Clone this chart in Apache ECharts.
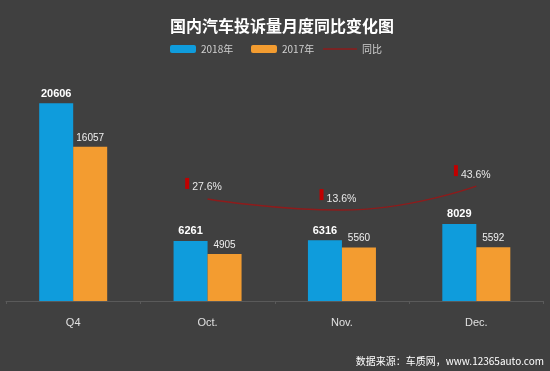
<!DOCTYPE html>
<html><head><meta charset="utf-8">
<script src="https://cdn.jsdelivr.net/npm/echarts@6/dist/echarts.min.js"></script>
<style>html,body{margin:0;padding:0;background:#404040;}#c{width:550px;height:371px;}</style>
</head><body><div id="c"></div>
<script>
const categories = ['Q4', 'Oct.', 'Nov.', 'Dec.'];
const values2018 = [20606, 6261, 6316, 8029];
const values2017 = [16057, 4905, 5560, 5592];
const yoyPercent = [null, 27.6, 13.6, 43.6];
const seriesNames = ['2018年', '2017年', '同比'];

const chart = echarts.init(document.getElementById('c'));
chart.setOption({
  backgroundColor: '#404040',
  animation: false,
  title: {
    text: '国内汽车投诉量月度同比变化图',
    left: 277, top: 13, textAlign: 'center',
    textStyle: { color: '#ffffff', fontSize: 16, fontWeight: 'bold', fontFamily: 'Noto Sans CJK SC' }
  },
  legend: [
    { data: [seriesNames[0]], left: 165, top: 39, itemWidth: 26, itemHeight: 8, itemGap: 5,
      textStyle: { color: '#d0d0d0', fontSize: 10, fontFamily: 'Noto Sans CJK SC' } },
    { data: [seriesNames[1]], left: 246, top: 39, itemWidth: 26, itemHeight: 8, itemGap: 5,
      textStyle: { color: '#d0d0d0', fontSize: 10, fontFamily: 'Noto Sans CJK SC' } },
    { data: [{ name: seriesNames[2], icon: 'rect' }], left: 318, top: 39, itemWidth: 34, itemHeight: 1.5,
      textStyle: { color: '#d0d0d0', fontSize: 10, fontFamily: 'Noto Sans CJK SC' } }
  ],
  grid: { left: 6, right: 6.5, top: 61, bottom: 70, containLabel: false },
  xAxis: {
    type: 'category', data: categories,
    axisLine: { lineStyle: { color: '#5a5a5a', width: 1 } },
    axisTick: { show: true, length: 3, lineStyle: { color: '#5a5a5a' } },
    axisLabel: { color: '#e0e0e0', fontSize: 11, margin: 16, fontFamily: 'Liberation Sans' }
  },
  yAxis: [
    { type: 'value', min: 0, max: 25000, show: false, splitLine: { show: false } },
    { type: 'value', min: -100, max: 200, show: false, splitLine: { show: false } }
  ],
  series: [
    { name: seriesNames[0], type: 'bar', data: values2018, barWidth: 34, barGap: '0%',
      itemStyle: { color: '#0f9cdc' },
      label: { show: true, position: 'top', distance: 4, color: '#ffffff', fontSize: 11, fontWeight: 'bold', fontFamily: 'Liberation Sans' } },
    { name: seriesNames[1], type: 'bar', data: values2017, barWidth: 34, barGap: '0%',
      itemStyle: { color: '#f39c30' },
      label: { show: true, position: 'top', distance: 4, color: '#f0f0f0', fontSize: 10, fontFamily: 'Liberation Sans' } },
    { name: seriesNames[2], type: 'line', yAxisIndex: 1, data: yoyPercent, smooth: true,
      symbol: 'circle', symbolSize: 0.01, showSymbol: true, connectNulls: false,
      lineStyle: { color: '#8e1b1b', width: 1.5 },
      itemStyle: { color: '#8e1b1b' },
      label: {
        show: true, position: 'top', distance: 6, offset: [-4, 0],
        formatter: p => '{a|}{t|' + p.value + '%}',
        rich: {
          a: { backgroundColor: '#c00000', width: 4, height: 11, padding: 0, align: 'left', verticalAlign: 'top' },
          t: { color: '#e8e8e8', fontSize: 10.5, fontFamily: 'Liberation Sans', padding: [4, 0, 0, 3] }
        }
      } }
  ],
  graphic: [
    { type: 'text', right: 6, top: 356,
      style: { text: '数据来源：车质网，www.12365auto.com', fill: '#ffffff', fontSize: 10, fontFamily: 'Noto Sans CJK SC' } }
  ]
});
</script></body></html>
